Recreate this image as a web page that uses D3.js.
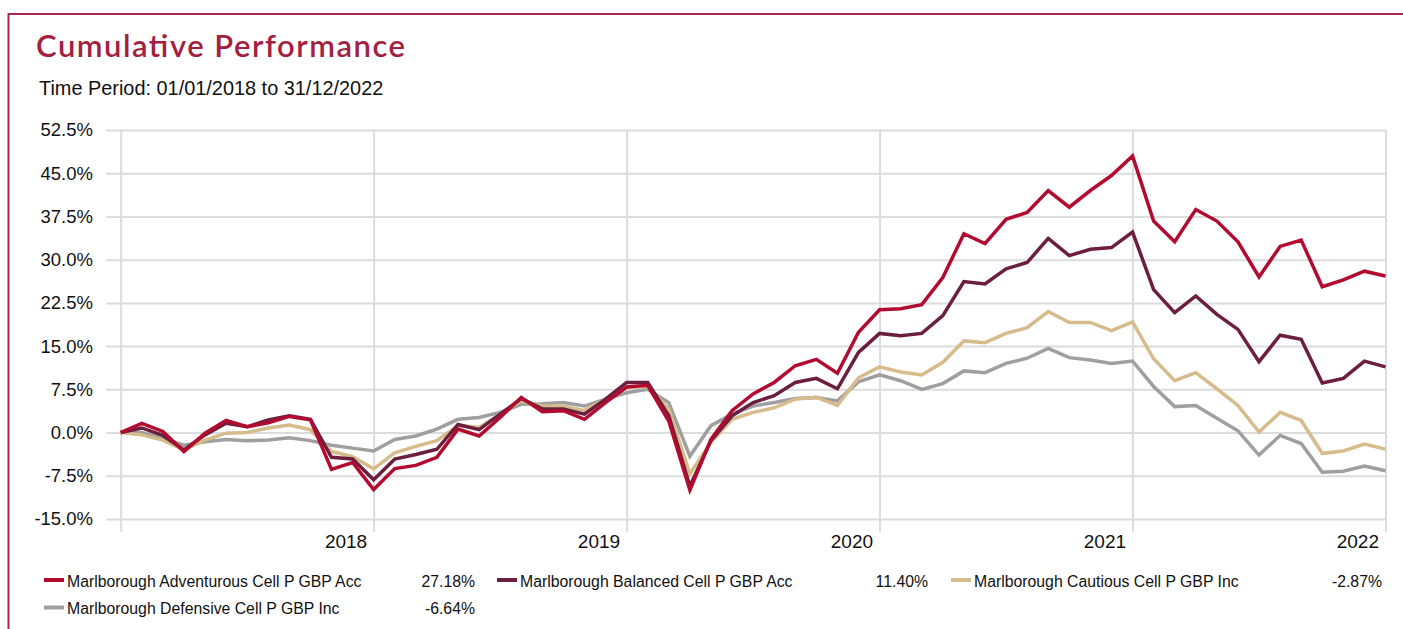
<!DOCTYPE html>
<html>
<head>
<meta charset="utf-8">
<script src="https://cdn.jsdelivr.net/npm/d3@7"></script>
<style>
  html, body { margin: 0; padding: 0; background: #fff; }
  svg { display: block; }
</style>
</head>
<body>
<svg id="chart" width="1403" height="629"></svg>
<script>
// ---------- data ----------
const months = d3.range(0, 61); // monthly observations, index 0..60
const yearTickMonths = [12, 24, 36, 48, 60];
const yearTickLabels = ["2018", "2019", "2020", "2021", "2022"];
const yTickValues = [-15, -7.5, 0, 7.5, 15, 22.5, 30, 37.5, 45, 52.5];

const seriesNames = [
  "Marlborough Adventurous Cell P GBP Acc",
  "Marlborough Balanced Cell P GBP Acc",
  "Marlborough Cautious Cell P GBP Inc",
  "Marlborough Defensive Cell P GBP Inc"
];
const seriesFinal = ["27.18%", "11.40%", "-2.87%", "-6.64%"];
const seriesColors = ["#b30b30", "#6b1e3e", "#d6bb8b", "#9f9f9f"];

const adventurous = [
  0, 1.6, 0.2, -3.3, -0.1, 2.1, 1.0, 1.7, 2.8, 2.2, -6.4, -5.2, -9.9,
  -6.25, -5.7, -4.3, 0.6, -0.6, 2.6, 6.1, 3.6, 3.8, 2.3, 5.2, 7.9,
  8.2, 2.0, -10.0, -1.2, 3.8, 6.7, 8.7, 11.6, 12.7, 10.3, 17.4, 21.3,
  21.5, 22.2, 26.9, 34.5, 32.8, 37.0, 38.2, 42.0, 39.1, 42.0, 44.6, 48.0,
  36.7, 33.1, 38.7, 36.7, 33.1, 27.0, 32.3, 33.4, 25.3, 26.5, 28.0, 27.18
];
const balanced = [
  0, 0.8, -0.5, -3.0, -0.4, 1.6, 1.0, 2.2, 2.9, 2.3, -4.3, -4.6, -8.2,
  -4.6, -3.8, -2.9, 1.4, 0.5, 3.2, 5.9, 4.1, 4.1, 3.2, 5.8, 8.7,
  8.7, 2.9, -9.3, -1.4, 2.9, 5.2, 6.4, 8.7, 9.4, 7.6, 13.9, 17.2,
  16.8, 17.2, 20.3, 26.2, 25.8, 28.4, 29.5, 33.7, 30.7, 31.8, 32.1, 34.8,
  24.8, 20.8, 23.7, 20.5, 17.9, 12.3, 16.9, 16.2, 8.6, 9.4, 12.4, 11.40
];
const cautious = [
  0, -0.4, -1.3, -3.0, -1.3, -0.1, 0.0, 0.8, 1.3, 0.5, -3.3, -4.2, -6.3,
  -3.5, -2.4, -1.4, 1.2, 0.9, 3.2, 5.5, 4.6, 4.6, 3.8, 5.8, 7.8,
  8.0, 4.1, -7.2, -1.7, 2.3, 3.5, 4.3, 5.8, 6.1, 4.7, 9.5, 11.4,
  10.5, 10.0, 12.2, 15.9, 15.6, 17.2, 18.2, 21.0, 19.1, 19.1, 17.7, 19.2,
  12.8, 9.0, 10.4, 7.6, 4.7, 0.1, 3.5, 2.1, -3.6, -3.2, -2.0, -2.87
];
const defensive = [
  0, 0.0, -1.0, -2.2, -1.6, -1.2, -1.4, -1.3, -0.9, -1.4, -2.2, -2.7, -3.2,
  -1.2, -0.6, 0.6, 2.3, 2.6, 3.5, 4.9, 5.0, 5.2, 4.6, 5.8, 6.9,
  7.5, 5.2, -4.1, 1.2, 3.2, 4.6, 5.2, 5.9, 6.1, 5.5, 8.8, 10.0,
  9.0, 7.5, 8.5, 10.7, 10.4, 12.0, 12.9, 14.6, 13.0, 12.6, 12.0, 12.4,
  8.0, 4.5, 4.7, 2.5, 0.3, -3.9, -0.5, -1.9, -6.9, -6.7, -5.8, -6.64
];

// ---------- layout ----------
const svg = d3.select("#chart");
const W = 1403, H = 629;
const accent = "#a8264a";
const plot = { left: 120.7, right: 1385.5, top: 130, bottom: 519 };

const x = d3.scaleLinear().domain([0, 60]).range([plot.left, plot.right]);
const y = d3.scaleLinear().domain([-15, 52.5]).range([plot.bottom, plot.top]);

// frame
svg.append("path")
  .attr("d", `M8.5,${H} L8.5,14 L${W},14`)
  .attr("fill", "none")
  .attr("stroke", accent)
  .attr("stroke-width", 2);

// title
svg.append("text")
  .attr("x", 36).attr("y", 57)
  .attr("font-family", "Lato, 'Open Sans', sans-serif")
  .attr("font-weight", 600)
  .attr("font-size", 31)
  .attr("fill", "#a3213f")
  .attr("textLength", 369)
  .attr("lengthAdjust", "spacing")
  .text("Cumulative Performance");

svg.append("text")
  .attr("x", 39).attr("y", 95)
  .attr("font-family", "'Liberation Sans', Arial, sans-serif")
  .attr("font-size", 19.9)
  .attr("fill", "#111")
  .text("Time Period: 01/01/2018 to 31/12/2022");

// y axis with horizontal gridlines
const yAxisG = svg.append("g")
  .attr("transform", `translate(106,0)`)
  .call(d3.axisLeft(y)
    .tickValues(yTickValues)
    .tickSize(-(plot.right - 106))
    .tickPadding(13)
    .tickFormat(d => d.toFixed(1) + "%"));
yAxisG.select(".domain").remove();
yAxisG.selectAll(".tick line").attr("stroke", "#dcdcdc").attr("stroke-width", 2);
yAxisG.selectAll(".tick text")
  .attr("font-family", "'Liberation Sans', Arial, sans-serif")
  .attr("font-size", 18.5)
  .attr("fill", "#111");

// vertical gridlines (year boundaries + edges)
const vGridMonths = [0].concat(yearTickMonths);
const vGrid = svg.append("g")
  .attr("transform", `translate(0,532)`)
  .call(d3.axisBottom(x)
    .tickValues(vGridMonths)
    .tickSize(-(532 - plot.top))
    .tickFormat(""));
vGrid.select(".domain").remove();
vGrid.selectAll(".tick line").attr("stroke", "#dcdcdc").attr("stroke-width", 2);

// x axis labels
const xAxisG = svg.append("g")
  .attr("transform", `translate(0,${plot.bottom})`)
  .call(d3.axisBottom(x)
    .tickValues(yearTickMonths)
    .tickSize(0)
    .tickPadding(0)
    .tickFormat((d, i) => yearTickLabels[i]));
xAxisG.select(".domain").remove();
xAxisG.selectAll(".tick text")
  .attr("font-family", "'Liberation Sans', Arial, sans-serif")
  .attr("font-size", 19)
  .attr("fill", "#111")
  .attr("text-anchor", "end")
  .attr("dy", null)
  .attr("y", 29)
  .attr("x", -7);

// lines (draw grey first, red last)
const seriesData = [adventurous, balanced, cautious, defensive];
const line = d3.line().x((d, i) => x(months[i])).y(d => y(d));
const order = [3, 2, 1, 0];
svg.append("g").selectAll("path")
  .data(order)
  .join("path")
  .attr("d", k => line(seriesData[k]))
  .attr("fill", "none")
  .attr("stroke", k => seriesColors[k])
  .attr("stroke-width", 3.5)
  .attr("stroke-linejoin", "miter")
  .attr("stroke-miterlimit", 4);

// legend
const legendCols = [44, 497, 951];
const legendColW = 431;
const legendRows = [580, 607.5];
const legendItems = seriesNames.map((n, i) => ({
  name: n, value: seriesFinal[i], color: seriesColors[i],
  col: i % 3, row: Math.floor(i / 3)
}));
const lg = svg.append("g").selectAll("g")
  .data(legendItems)
  .join("g")
  .attr("transform", d => `translate(${legendCols[d.col]},${legendRows[d.row]})`);
lg.append("line")
  .attr("x1", 0).attr("x2", 20).attr("y1", 0).attr("y2", 0)
  .attr("stroke", d => d.color).attr("stroke-width", 4);
lg.append("text")
  .attr("x", 23).attr("y", 6.5)
  .attr("font-family", "'Liberation Sans', Arial, sans-serif")
  .attr("font-size", 15.8)
  .attr("fill", "#111")
  .text(d => d.name);
lg.append("text")
  .attr("x", legendColW).attr("y", 6.5)
  .attr("text-anchor", "end")
  .attr("font-family", "'Liberation Sans', Arial, sans-serif")
  .attr("font-size", 15.8)
  .attr("fill", "#111")
  .text(d => d.value);
</script>
</body>
</html>
